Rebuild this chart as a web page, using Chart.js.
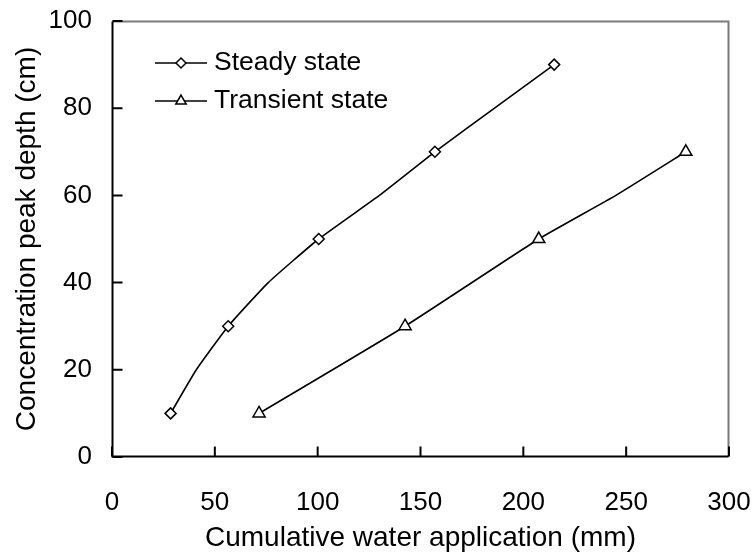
<!DOCTYPE html>
<html>
<head>
<meta charset="utf-8">
<script src="https://cdn.jsdelivr.net/npm/chart.js@4/dist/chart.umd.min.js"></script>
<style>
  html, body { margin: 0; padding: 0; background: #fff; }
  #wrap { width: 754px; height: 557px; }
</style>
</head>
<body>
<div id="wrap"><canvas id="depthChart" width="754" height="557"></canvas></div>
<script>
// ---------------------------
// Data
// ---------------------------
const steadyWater  = [28.5, 41, 56.5, 76, 100.5, 130, 157, 186, 215];
const steadyDepth  = [10,   20, 30,   40, 50,    60,  70,  80,  90];

const transientWater = [71.5, 142.5, 207.5, 245, 279];
const transientDepth = [10,   30,    50,    60,  70];

// depths that carry a marker (measured peaks)
const markedDepths = [10, 30, 50, 70, 90];

const xTicks = [0, 50, 100, 150, 200, 250, 300];
const yTicks = [0, 20, 40, 60, 80, 100];

const FONT = "'Liberation Sans', Arial, sans-serif";

function toPoints(xs, ys){
  return xs.map((x, i)=> ({ x: x, y: ys[i] }));
}

function markerRadius(r){
  return ctx => markedDepths.includes(ctx.raw ? ctx.raw.y : -1) ? r : 0;
}

// ---------------------------
// Frame + inward ticks + legend
// ---------------------------
const framePlugin = {
  id: "frame",
  afterDraw(chart){
    const {ctx, scales} = chart;
    const L = Math.round(scales.x.getPixelForValue(0)) + 0.5;
    const R = Math.round(scales.x.getPixelForValue(300)) - 0.5;
    const T = Math.round(scales.y.getPixelForValue(100)) + 0.5;
    const B = Math.round(scales.y.getPixelForValue(0)) - 0.5;
    ctx.save();
    ctx.lineWidth = 2;

    ctx.strokeStyle = "#7a7a7a";
    ctx.beginPath();
    ctx.moveTo(L, T); ctx.lineTo(R, T);
    ctx.lineTo(R, B);
    ctx.stroke();

    ctx.strokeStyle = "#000";
    ctx.beginPath();
    ctx.moveTo(L, T); ctx.lineTo(L, B);
    ctx.lineTo(R, B);
    for(const v of yTicks){
      const y = scales.y.getPixelForValue(v);
      ctx.moveTo(L, y); ctx.lineTo(L + 10, y);
    }
    for(const v of xTicks){
      const x = scales.x.getPixelForValue(v);
      ctx.moveTo(x, B); ctx.lineTo(x, B - 10);
    }
    ctx.stroke();

    // legend: line with marker, then label
    const rows = [63, 101];
    chart.data.datasets.forEach((ds, i)=>{
      const y = rows[i];
      ctx.strokeStyle = ds.borderColor;
      ctx.lineWidth = ds.borderWidth;
      ctx.beginPath();
      ctx.moveTo(155, y); ctx.lineTo(207, y);
      ctx.stroke();
      ctx.fillStyle = "#fff";
      ctx.strokeStyle = "#000";
      ctx.lineWidth = ds.pointBorderWidth;
      Chart.helpers.drawPoint(ctx, {
        pointStyle: ds.pointStyle,
        radius: ds.legendRadius,
        borderWidth: ds.pointBorderWidth
      }, 181, y);
      ctx.fillStyle = "#000";
      ctx.font = "26.5px " + FONT;
      ctx.textBaseline = "middle";
      ctx.textAlign = "left";
      ctx.fillText(ds.label, 214, y);
    });
    ctx.restore();
  }
};

// ---------------------------
// Chart
// ---------------------------
const lineStyle = {
  borderColor: "#000",
  borderWidth: 1.6,
  backgroundColor: "#fff",
  pointBackgroundColor: "#fff",
  pointBorderColor: "#000",
  pointBorderWidth: 1.5,
  tension: 0.15,
  showLine: true
};

new Chart(document.getElementById("depthChart"), {
  type: "scatter",
  data: {
    datasets: [
      Object.assign({
        label: "Steady state",
        data: toPoints(steadyWater, steadyDepth),
        pointStyle: "rectRot",
        pointRadius: markerRadius(5.5),
        legendRadius: 5
      }, lineStyle),
      Object.assign({
        label: "Transient state",
        data: toPoints(transientWater, transientDepth),
        pointStyle: "triangle",
        pointRadius: markerRadius(7),
        legendRadius: 6
      }, lineStyle)
    ]
  },
  options: {
    responsive: false,
    animation: false,
    layout: { padding: { top: 21, right: 25, left: 0, bottom: 0 } },
    plugins: { legend: { display: false }, tooltip: { enabled: false } },
    scales: {
      x: {
        type: "linear", min: 0, max: 300,
        afterBuildTicks: s => { s.ticks = xTicks.map(v => ({ value: v })); },
        afterFit: s => { s.height = 100; s.paddingLeft = 0; s.paddingRight = 0; },
        grid: { display: false, drawTicks: false },
        border: { display: false },
        ticks: { color: "#000", font: { family: FONT, size: 26 }, padding: 30, maxRotation: 0 },
        title: {
          display: true, text: "Cumulative water application (mm)",
          color: "#000", font: { family: FONT, size: 28 }, padding: { top: 0, bottom: 2 }
        }
      },
      y: {
        type: "linear", min: 0, max: 100,
        afterBuildTicks: s => { s.ticks = yTicks.map(v => ({ value: v })); },
        afterFit: s => { s.width = 112; s.paddingTop = 0; s.paddingBottom = 0; },
        grid: { display: false, drawTicks: false },
        border: { display: false },
        ticks: { color: "#000", font: { family: FONT, size: 26 }, padding: 20 },
        title: {
          display: true, text: "Concentration peak depth (cm)",
          color: "#000", font: { family: FONT, size: 28 }, padding: { top: 10, bottom: 0 }
        }
      }
    }
  },
  plugins: [framePlugin]
});
</script>
</body>
</html>
